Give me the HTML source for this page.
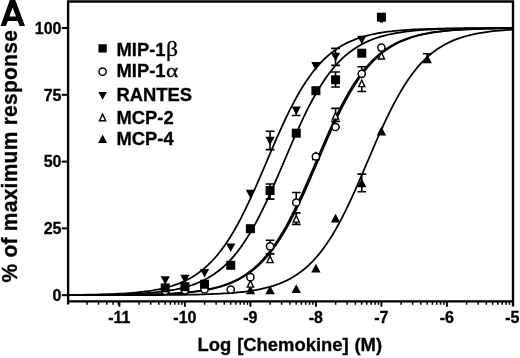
<!DOCTYPE html>
<html><head><meta charset="utf-8"><title>Chart</title>
<style>
html,body{margin:0;padding:0;background:#fff;width:520px;height:358px;overflow:hidden;}
#c{position:absolute;left:0;top:0;width:520px;height:358px;overflow:hidden;will-change:transform;}
body{position:relative;font-family:"Liberation Sans",sans-serif;font-weight:bold;color:#000;}
.t{-webkit-text-stroke:0.3px #000;position:absolute;white-space:nowrap;line-height:1;}
.yt{font-size:16px;right:458.5px;text-align:right;}
.xt{font-size:16px;width:40px;text-align:center;}
.lg{font-size:18.4px;left:116.5px;}
.gr{font-family:"Liberation Serif",serif;font-weight:normal;font-size:20px;margin-left:0.2px;display:inline-block;transform:scaleX(1.18);transform-origin:0 100%;}
.al{font-size:19px;transform:scaleX(1.22);}
</style></head><body><div id="c">
<svg width="520" height="358" viewBox="0 0 520 358" style="position:absolute;left:0;top:0">
<rect width="520" height="358" fill="#fff"/>
<path d="M67.00,294.96 L70.27,294.93 L73.55,294.90 L76.83,294.86 L80.10,294.82 L83.38,294.78 L86.65,294.72 L89.93,294.67 L93.20,294.60 L96.48,294.53 L99.75,294.45 L103.03,294.35 L106.30,294.25 L109.58,294.14 L112.85,294.01 L116.13,293.86 L119.40,293.70 L122.68,293.52 L125.95,293.31 L129.23,293.08 L132.50,292.83 L135.78,292.54 L139.05,292.22 L142.33,291.86 L145.60,291.46 L148.88,291.01 L152.15,290.51 L155.43,289.95 L158.70,289.32 L161.98,288.62 L165.25,287.84 L168.53,286.97 L171.80,286.00 L175.08,284.92 L178.35,283.72 L181.63,282.39 L184.90,280.91 L188.18,279.27 L191.45,277.46 L194.73,275.45 L198.00,273.24 L201.28,270.81 L204.55,268.13 L207.83,265.20 L211.10,261.99 L214.38,258.50 L217.65,254.70 L220.93,250.58 L224.20,246.14 L227.48,241.36 L230.75,236.24 L234.03,230.78 L237.30,224.98 L240.58,218.86 L243.85,212.44 L247.13,205.72 L250.40,198.74 L253.68,191.54 L256.95,184.15 L260.23,176.61 L263.50,168.98 L266.78,161.29 L270.05,153.61 L273.33,145.98 L276.60,138.46 L279.88,131.08 L283.15,123.89 L286.43,116.93 L289.70,110.24 L292.98,103.83 L296.25,97.74 L299.53,91.97 L302.80,86.54 L306.08,81.45 L309.35,76.69 L312.63,72.28 L315.90,68.18 L319.18,64.41 L322.45,60.94 L325.73,57.76 L329.00,54.84 L332.28,52.19 L335.55,49.77 L338.83,47.58 L342.10,45.59 L345.38,43.79 L348.65,42.16 L351.93,40.70 L355.20,39.37 L358.48,38.18 L361.75,37.12 L365.03,36.15 L368.30,35.29 L371.58,34.52 L374.85,33.82 L378.13,33.20 L381.40,32.65 L384.68,32.15 L387.95,31.70 L391.23,31.31 L394.50,30.95 L397.78,30.63 L401.05,30.35 L404.33,30.10 L407.60,29.87 L410.88,29.67 L414.15,29.49 L417.43,29.33 L420.70,29.18 L423.98,29.05 L427.25,28.94 L430.53,28.84 L433.80,28.75 L437.08,28.67 L440.35,28.59 L443.63,28.53 L446.90,28.47 L450.18,28.42 L453.45,28.38 L456.73,28.33 L460.00,28.30 L463.28,28.27 L466.55,28.24 L469.83,28.21 L473.10,28.19 L476.38,28.17 L479.65,28.15 L482.93,28.13 L486.20,28.12 L489.48,28.11 L492.75,28.09 L496.03,28.08 L499.30,28.07 L502.58,28.07 L505.85,28.06 L509.13,28.05 L512.40,28.05" fill="none" stroke="#000" stroke-width="1.75"/>
<path d="M67.00,295.07 L70.27,295.05 L73.55,295.04 L76.83,295.02 L80.10,294.99 L83.38,294.97 L86.65,294.94 L89.93,294.91 L93.20,294.87 L96.48,294.83 L99.75,294.79 L103.03,294.74 L106.30,294.68 L109.58,294.62 L112.85,294.55 L116.13,294.47 L119.40,294.38 L122.68,294.28 L125.95,294.17 L129.23,294.05 L132.50,293.91 L135.78,293.75 L139.05,293.57 L142.33,293.38 L145.60,293.16 L148.88,292.91 L152.15,292.63 L155.43,292.32 L158.70,291.97 L161.98,291.59 L165.25,291.15 L168.53,290.67 L171.80,290.12 L175.08,289.52 L178.35,288.84 L181.63,288.09 L184.90,287.24 L188.18,286.31 L191.45,285.26 L194.73,284.10 L198.00,282.81 L201.28,281.37 L204.55,279.78 L207.83,278.02 L211.10,276.08 L214.38,273.93 L217.65,271.56 L220.93,268.96 L224.20,266.11 L227.48,262.99 L230.75,259.58 L234.03,255.87 L237.30,251.85 L240.58,247.51 L243.85,242.83 L247.13,237.81 L250.40,232.45 L253.68,226.76 L256.95,220.73 L260.23,214.40 L263.50,207.76 L266.78,200.86 L270.05,193.72 L273.33,186.38 L276.60,178.88 L279.88,171.27 L283.15,163.60 L286.43,155.91 L289.70,148.26 L292.98,140.70 L296.25,133.27 L299.53,126.02 L302.80,119.00 L306.08,112.22 L309.35,105.72 L312.63,99.53 L315.90,93.67 L319.18,88.13 L322.45,82.94 L325.73,78.08 L329.00,73.57 L332.28,69.38 L335.55,65.51 L338.83,61.95 L342.10,58.68 L345.38,55.69 L348.65,52.96 L351.93,50.47 L355.20,48.21 L358.48,46.17 L361.75,44.31 L365.03,42.63 L368.30,41.12 L371.58,39.76 L374.85,38.53 L378.13,37.42 L381.40,36.43 L384.68,35.54 L387.95,34.74 L391.23,34.02 L394.50,33.38 L397.78,32.81 L401.05,32.29 L404.33,31.83 L407.60,31.42 L410.88,31.05 L414.15,30.73 L417.43,30.43 L420.70,30.17 L423.98,29.93 L427.25,29.73 L430.53,29.54 L433.80,29.37 L437.08,29.22 L440.35,29.09 L443.63,28.97 L446.90,28.87 L450.18,28.77 L453.45,28.69 L456.73,28.61 L460.00,28.55 L463.28,28.49 L466.55,28.44 L469.83,28.39 L473.10,28.35 L476.38,28.31 L479.65,28.28 L482.93,28.25 L486.20,28.22 L489.48,28.19 L492.75,28.17 L496.03,28.15 L499.30,28.14 L502.58,28.12 L505.85,28.11 L509.13,28.10 L512.40,28.09" fill="none" stroke="#000" stroke-width="1.75"/>
<path d="M67.00,295.16 L70.27,295.15 L73.55,295.15 L76.83,295.14 L80.10,295.13 L83.38,295.13 L86.65,295.12 L89.93,295.11 L93.20,295.09 L96.48,295.08 L99.75,295.07 L103.03,295.05 L106.30,295.03 L109.58,295.01 L112.85,294.99 L116.13,294.96 L119.40,294.93 L122.68,294.90 L125.95,294.87 L129.23,294.83 L132.50,294.78 L135.78,294.73 L139.05,294.67 L142.33,294.61 L145.60,294.54 L148.88,294.45 L152.15,294.36 L155.43,294.26 L158.70,294.15 L161.98,294.02 L165.25,293.88 L168.53,293.72 L171.80,293.54 L175.08,293.33 L178.35,293.11 L181.63,292.86 L184.90,292.57 L188.18,292.26 L191.45,291.90 L194.73,291.50 L198.00,291.06 L201.28,290.56 L204.55,290.01 L207.83,289.39 L211.10,288.70 L214.38,287.92 L217.65,287.06 L220.93,286.11 L224.20,285.04 L227.48,283.85 L230.75,282.53 L234.03,281.07 L237.30,279.44 L240.58,277.65 L243.85,275.66 L247.13,273.47 L250.40,271.06 L253.68,268.41 L256.95,265.51 L260.23,262.33 L263.50,258.86 L266.78,255.09 L270.05,251.01 L273.33,246.60 L276.60,241.85 L279.88,236.77 L283.15,231.34 L286.43,225.58 L289.70,219.49 L292.98,213.09 L296.25,206.40 L299.53,199.45 L302.80,192.27 L306.08,184.89 L309.35,177.37 L312.63,169.74 L315.90,162.06 L319.18,154.38 L322.45,146.74 L325.73,139.20 L329.00,131.81 L332.28,124.60 L335.55,117.62 L338.83,110.90 L342.10,104.46 L345.38,98.33 L348.65,92.53 L351.93,87.07 L355.20,81.94 L358.48,77.15 L361.75,72.70 L365.03,68.58 L368.30,64.77 L371.58,61.27 L374.85,58.06 L378.13,55.12 L381.40,52.44 L384.68,50.00 L387.95,47.79 L391.23,45.78 L394.50,43.96 L397.78,42.32 L401.05,40.84 L404.33,39.50 L407.60,38.30 L410.88,37.22 L414.15,36.25 L417.43,35.37 L420.70,34.59 L423.98,33.89 L427.25,33.26 L430.53,32.70 L433.80,32.20 L437.08,31.75 L440.35,31.34 L443.63,30.99 L446.90,30.66 L450.18,30.38 L453.45,30.12 L456.73,29.89 L460.00,29.69 L463.28,29.50 L466.55,29.34 L469.83,29.20 L473.10,29.07 L476.38,28.95 L479.65,28.85 L482.93,28.76 L486.20,28.67 L489.48,28.60 L492.75,28.54 L496.03,28.48 L499.30,28.43 L502.58,28.38 L505.85,28.34 L509.13,28.30 L512.40,28.27" fill="none" stroke="#000" stroke-width="1.75"/>
<path d="M67.00,295.16 L70.27,295.16 L73.55,295.15 L76.83,295.14 L80.10,295.14 L83.38,295.13 L86.65,295.12 L89.93,295.11 L93.20,295.10 L96.48,295.09 L99.75,295.07 L103.03,295.06 L106.30,295.04 L109.58,295.02 L112.85,295.00 L116.13,294.98 L119.40,294.95 L122.68,294.92 L125.95,294.88 L129.23,294.84 L132.50,294.80 L135.78,294.75 L139.05,294.70 L142.33,294.64 L145.60,294.57 L148.88,294.49 L152.15,294.41 L155.43,294.31 L158.70,294.20 L161.98,294.08 L165.25,293.94 L168.53,293.79 L171.80,293.62 L175.08,293.43 L178.35,293.22 L181.63,292.98 L184.90,292.71 L188.18,292.41 L191.45,292.07 L194.73,291.69 L198.00,291.27 L201.28,290.80 L204.55,290.27 L207.83,289.68 L211.10,289.02 L214.38,288.29 L217.65,287.47 L220.93,286.56 L224.20,285.54 L227.48,284.41 L230.75,283.16 L234.03,281.76 L237.30,280.21 L240.58,278.50 L243.85,276.60 L247.13,274.51 L250.40,272.20 L253.68,269.66 L256.95,266.87 L260.23,263.82 L263.50,260.49 L266.78,256.87 L270.05,252.93 L273.33,248.67 L276.60,244.08 L279.88,239.15 L283.15,233.88 L286.43,228.27 L289.70,222.33 L292.98,216.07 L296.25,209.51 L299.53,202.68 L302.80,195.60 L306.08,188.31 L309.35,180.85 L312.63,173.26 L315.90,165.60 L319.18,157.91 L322.45,150.25 L325.73,142.66 L329.00,135.19 L332.28,127.89 L335.55,120.80 L338.83,113.95 L342.10,107.38 L345.38,101.11 L348.65,95.16 L351.93,89.54 L355.20,84.26 L358.48,79.31 L361.75,74.71 L365.03,70.44 L368.30,66.49 L371.58,62.85 L374.85,59.50 L378.13,56.44 L381.40,53.65 L384.68,51.10 L387.95,48.78 L391.23,46.68 L394.50,44.78 L397.78,43.05 L401.05,41.50 L404.33,40.10 L407.60,38.84 L410.88,37.70 L414.15,36.68 L417.43,35.76 L420.70,34.94 L423.98,34.20 L427.25,33.54 L430.53,32.95 L433.80,32.42 L437.08,31.95 L440.35,31.52 L443.63,31.15 L446.90,30.81 L450.18,30.50 L453.45,30.23 L456.73,29.99 L460.00,29.78 L463.28,29.59 L466.55,29.41 L469.83,29.26 L473.10,29.12 L476.38,29.00 L479.65,28.89 L482.93,28.80 L486.20,28.71 L489.48,28.63 L492.75,28.56 L496.03,28.50 L499.30,28.45 L502.58,28.40 L505.85,28.36 L509.13,28.32 L512.40,28.28" fill="none" stroke="#000" stroke-width="1.75"/>
<path d="M67.00,295.19 L70.27,295.19 L73.55,295.19 L76.83,295.19 L80.10,295.19 L83.38,295.19 L86.65,295.19 L89.93,295.18 L93.20,295.18 L96.48,295.18 L99.75,295.18 L103.03,295.18 L106.30,295.17 L109.58,295.17 L112.85,295.17 L116.13,295.16 L119.40,295.16 L122.68,295.15 L125.95,295.15 L129.23,295.14 L132.50,295.13 L135.78,295.12 L139.05,295.11 L142.33,295.10 L145.60,295.09 L148.88,295.08 L152.15,295.06 L155.43,295.05 L158.70,295.03 L161.98,295.01 L165.25,294.98 L168.53,294.96 L171.80,294.93 L175.08,294.89 L178.35,294.85 L181.63,294.81 L184.90,294.77 L188.18,294.71 L191.45,294.65 L194.73,294.59 L198.00,294.51 L201.28,294.43 L204.55,294.33 L207.83,294.23 L211.10,294.11 L214.38,293.98 L217.65,293.83 L220.93,293.66 L224.20,293.48 L227.48,293.27 L230.75,293.04 L234.03,292.77 L237.30,292.48 L240.58,292.15 L243.85,291.79 L247.13,291.38 L250.40,290.92 L253.68,290.40 L256.95,289.83 L260.23,289.19 L263.50,288.47 L266.78,287.68 L270.05,286.79 L273.33,285.80 L276.60,284.69 L279.88,283.47 L283.15,282.11 L286.43,280.60 L289.70,278.92 L292.98,277.07 L296.25,275.03 L299.53,272.77 L302.80,270.29 L306.08,267.57 L309.35,264.58 L312.63,261.32 L315.90,257.76 L319.18,253.90 L322.45,249.72 L325.73,245.21 L329.00,240.36 L332.28,235.17 L335.55,229.65 L338.83,223.79 L342.10,217.60 L345.38,211.11 L348.65,204.34 L351.93,197.32 L355.20,190.07 L358.48,182.65 L361.75,175.09 L365.03,167.44 L368.30,159.75 L371.58,152.08 L374.85,144.47 L378.13,136.97 L381.40,129.62 L384.68,122.48 L387.95,115.57 L391.23,108.93 L394.50,102.59 L397.78,96.56 L401.05,90.86 L404.33,85.49 L407.60,80.47 L410.88,75.78 L414.15,71.43 L417.43,67.40 L420.70,63.69 L423.98,60.28 L427.25,57.15 L430.53,54.29 L433.80,51.69 L437.08,49.32 L440.35,47.17 L443.63,45.22 L446.90,43.45 L450.18,41.86 L453.45,40.42 L456.73,39.13 L460.00,37.96 L463.28,36.91 L466.55,35.97 L469.83,35.13 L473.10,34.37 L476.38,33.69 L479.65,33.09 L482.93,32.54 L486.20,32.06 L489.48,31.62 L492.75,31.23 L496.03,30.88 L499.30,30.57 L502.58,30.30 L505.85,30.05 L509.13,29.83 L512.40,29.63" fill="none" stroke="#000" stroke-width="1.75"/>
<path d="M68.1,0.4 V304.6 M67,1.45 H514.1 M513.0,0.4 V306.6 M67,301.3 H514.1" stroke="#000" stroke-width="2.35" fill="none"/>
<path d="M61.8,295.20 H68" stroke="#000" stroke-width="2"/>
<path d="M61.8,228.40 H68" stroke="#000" stroke-width="2"/>
<path d="M61.8,161.60 H68" stroke="#000" stroke-width="2"/>
<path d="M61.8,94.80 H68" stroke="#000" stroke-width="2"/>
<path d="M61.8,28.00 H68" stroke="#000" stroke-width="2"/>
<path d="M87.02,301.3 V304.8 M98.55,301.3 V304.8 M106.73,301.3 V304.8 M113.08,301.3 V304.8 M118.27,301.3 V304.8 M139.12,301.3 V304.8 M150.65,301.3 V304.8 M158.83,301.3 V304.8 M165.18,301.3 V304.8 M170.37,301.3 V304.8 M174.75,301.3 V304.8 M178.55,301.3 V304.8 M181.90,301.3 V304.8 M204.62,301.3 V304.8 M216.15,301.3 V304.8 M224.33,301.3 V304.8 M230.68,301.3 V304.8 M235.87,301.3 V304.8 M240.25,301.3 V304.8 M244.05,301.3 V304.8 M247.40,301.3 V304.8 M270.12,301.3 V304.8 M281.65,301.3 V304.8 M289.83,301.3 V304.8 M296.18,301.3 V304.8 M301.37,301.3 V304.8 M305.75,301.3 V304.8 M309.55,301.3 V304.8 M312.90,301.3 V304.8 M335.62,301.3 V304.8 M347.15,301.3 V304.8 M355.33,301.3 V304.8 M361.68,301.3 V304.8 M366.87,301.3 V304.8 M371.25,301.3 V304.8 M375.05,301.3 V304.8 M378.40,301.3 V304.8 M401.12,301.3 V304.8 M412.65,301.3 V304.8 M420.83,301.3 V304.8 M427.18,301.3 V304.8 M432.37,301.3 V304.8 M436.75,301.3 V304.8 M440.55,301.3 V304.8 M443.90,301.3 V304.8 M466.62,301.3 V304.8 M478.15,301.3 V304.8 M486.33,301.3 V304.8 M492.68,301.3 V304.8 M497.87,301.3 V304.8 M502.25,301.3 V304.8 M506.05,301.3 V304.8 M509.40,301.3 V304.8" stroke="#000" stroke-width="1.5" fill="none"/>
<path d="M119.40,301.3 V306.8 M184.90,301.3 V306.8 M250.40,301.3 V306.8 M315.90,301.3 V306.8 M381.40,301.3 V306.8 M446.90,301.3 V306.8" stroke="#000" stroke-width="1.9" fill="none"/>
<path d="M361.75,182.90 V174.10 M357.35,174.10 H366.15 M361.75,182.90 V191.70 M357.35,191.70 H366.15 M427.25,58.80 V53.80 M422.85,53.80 H431.65 " stroke="#000" stroke-width="1.6" fill="none"/>
<path d="M245.70,294.20 H255.10 L250.40,285.40 Z" fill="#000"/>
<path d="M265.35,294.20 H274.75 L270.05,285.40 Z" fill="#000"/>
<path d="M291.55,293.10 H300.95 L296.25,284.30 Z" fill="#000"/>
<path d="M311.20,272.60 H320.60 L315.90,263.80 Z" fill="#000"/>
<path d="M330.85,222.60 H340.25 L335.55,213.80 Z" fill="#000"/>
<path d="M357.05,187.30 H366.45 L361.75,178.50 Z" fill="#000"/>
<path d="M376.70,135.40 H386.10 L381.40,126.60 Z" fill="#000"/>
<path d="M422.55,63.20 H431.95 L427.25,54.40 Z" fill="#000"/>
<path d="M270.05,258.90 V253.90 M265.65,253.90 H274.45 M296.25,218.40 V212.90 M291.85,212.90 H300.65 M296.25,218.40 V224.40 M291.85,224.40 H300.65 M335.55,115.40 V108.40 M331.15,108.40 H339.95 M335.55,115.40 V121.40 M331.15,121.40 H339.95 M361.75,82.90 V91.50 M357.35,91.50 H366.15 " stroke="#000" stroke-width="1.6" fill="none"/>
<path d="M247.30,287.13 H253.50 L250.40,280.54 Z" fill="#fff" stroke="#000" stroke-width="1.40"/>
<path d="M266.95,262.63 H273.15 L270.05,256.04 Z" fill="#fff" stroke="#000" stroke-width="1.40"/>
<path d="M293.15,222.13 H299.35 L296.25,215.54 Z" fill="#fff" stroke="#000" stroke-width="1.40"/>
<path d="M312.80,159.43 H319.00 L315.90,152.84 Z" fill="#fff" stroke="#000" stroke-width="1.40"/>
<path d="M332.45,119.13 H338.65 L335.55,112.54 Z" fill="#fff" stroke="#000" stroke-width="1.40"/>
<path d="M358.65,86.63 H364.85 L361.75,80.04 Z" fill="#fff" stroke="#000" stroke-width="1.40"/>
<path d="M378.30,59.03 H384.50 L381.40,52.44 Z" fill="#fff" stroke="#000" stroke-width="1.40"/>
<path d="M270.05,246.30 V240.30 M265.65,240.30 H274.45 M296.25,202.50 V192.50 M291.85,192.50 H300.65 M361.75,73.80 V66.80 M357.35,66.80 H366.15 " stroke="#000" stroke-width="1.6" fill="none"/>
<circle cx="165.25" cy="291.00" r="3.60" fill="#fff" stroke="#000" stroke-width="1.50"/>
<circle cx="184.90" cy="290.30" r="3.60" fill="#fff" stroke="#000" stroke-width="1.50"/>
<circle cx="204.55" cy="289.40" r="3.60" fill="#fff" stroke="#000" stroke-width="1.50"/>
<circle cx="230.75" cy="289.60" r="3.60" fill="#fff" stroke="#000" stroke-width="1.50"/>
<circle cx="250.40" cy="277.20" r="3.60" fill="#fff" stroke="#000" stroke-width="1.50"/>
<circle cx="270.05" cy="246.30" r="3.60" fill="#fff" stroke="#000" stroke-width="1.50"/>
<circle cx="296.25" cy="202.50" r="3.60" fill="#fff" stroke="#000" stroke-width="1.50"/>
<circle cx="315.90" cy="156.50" r="3.60" fill="#fff" stroke="#000" stroke-width="1.50"/>
<circle cx="335.55" cy="127.00" r="3.60" fill="#fff" stroke="#000" stroke-width="1.50"/>
<circle cx="361.75" cy="73.80" r="3.60" fill="#fff" stroke="#000" stroke-width="1.50"/>
<circle cx="381.40" cy="47.60" r="3.60" fill="#fff" stroke="#000" stroke-width="1.50"/>
<path d="M270.05,190.60 V184.00 M265.65,184.00 H274.45 M270.05,190.60 V199.10 M265.65,199.10 H274.45 M335.55,79.80 V72.00 M331.15,72.00 H339.95 M335.55,79.80 V87.00 M331.15,87.00 H339.95 " stroke="#000" stroke-width="1.6" fill="none"/>
<rect x="160.75" y="283.40" width="9.00" height="9.00" fill="#000"/>
<rect x="180.40" y="282.20" width="9.00" height="9.00" fill="#000"/>
<rect x="200.05" y="279.70" width="9.00" height="9.00" fill="#000"/>
<rect x="226.25" y="260.80" width="9.00" height="9.00" fill="#000"/>
<rect x="245.90" y="224.20" width="9.00" height="9.00" fill="#000"/>
<rect x="265.55" y="186.10" width="9.00" height="9.00" fill="#000"/>
<rect x="291.75" y="128.70" width="9.00" height="9.00" fill="#000"/>
<rect x="311.40" y="86.20" width="9.00" height="9.00" fill="#000"/>
<rect x="331.05" y="75.30" width="9.00" height="9.00" fill="#000"/>
<rect x="357.25" y="48.70" width="9.00" height="9.00" fill="#000"/>
<rect x="376.90" y="12.70" width="9.00" height="9.00" fill="#000"/>
<path d="M270.05,141.00 V131.30 M265.65,131.30 H274.45 M270.05,141.00 V149.60 M265.65,149.60 H274.45 M296.25,110.60 V115.50 M291.85,115.50 H300.65 M335.55,56.90 V48.40 M331.15,48.40 H339.95 M335.55,56.90 V65.40 M331.15,65.40 H339.95 " stroke="#000" stroke-width="1.6" fill="none"/>
<path d="M160.65,276.30 H169.85 L165.25,284.80 Z" fill="#000"/>
<path d="M180.30,274.80 H189.50 L184.90,283.30 Z" fill="#000"/>
<path d="M199.95,268.90 H209.15 L204.55,277.40 Z" fill="#000"/>
<path d="M226.15,243.40 H235.35 L230.75,251.90 Z" fill="#000"/>
<path d="M245.80,189.80 H255.00 L250.40,198.30 Z" fill="#000"/>
<path d="M265.45,136.80 H274.65 L270.05,145.30 Z" fill="#000"/>
<path d="M291.65,106.40 H300.85 L296.25,114.90 Z" fill="#000"/>
<path d="M311.30,61.90 H320.50 L315.90,70.40 Z" fill="#000"/>
<path d="M330.95,52.70 H340.15 L335.55,61.20 Z" fill="#000"/>
<path d="M357.15,35.80 H366.35 L361.75,44.30 Z" fill="#000"/>
<path d="M0.6,25.9 L9.8,0.1 L15.3,0.1 L25.0,25.9 L19.6,25.9 L17.75,21 L7.75,21 L6.0,25.9 Z M12.62,7.4 L16.05,16.5 L9.37,16.5 Z" fill="#000" fill-rule="evenodd"/>
<rect x="379.90" y="21" width="3" height="1.6" fill="#000"/>
<rect x="98.46" y="44.26" width="8.28" height="8.28" fill="#000"/>
<circle cx="102.60" cy="71.70" r="3.60" fill="#fff" stroke="#000" stroke-width="1.50"/>
<path d="M98.37,91.94 H106.83 L102.60,99.76 Z" fill="#000"/>
<path d="M99.50,120.73 H105.70 L102.60,114.14 Z" fill="#fff" stroke="#000" stroke-width="1.40"/>
<path d="M98.13,142.88 H107.06 L102.60,134.52 Z" fill="#000"/>
</svg>
<div class="t yt" style="top:20.8px">100</div>
<div class="t yt" style="top:87.6px">75</div>
<div class="t yt" style="top:154.4px">50</div>
<div class="t yt" style="top:221.2px">25</div>
<div class="t yt" style="top:288.0px">0</div>
<div class="t xt" style="left:99.4px;top:310.2px">-11</div>
<div class="t xt" style="left:164.9px;top:310.2px">-10</div>
<div class="t xt" style="left:230.4px;top:310.2px">-9</div>
<div class="t xt" style="left:295.9px;top:310.2px">-8</div>
<div class="t xt" style="left:361.4px;top:310.2px">-7</div>
<div class="t xt" style="left:426.9px;top:310.2px">-6</div>
<div class="t xt" style="left:492.4px;top:310.2px">-5</div>
<div class="t lg" style="top:38.5px">MIP-1<span class="gr">&beta;</span></div>
<div class="t lg" style="top:61px">MIP-1<span class="gr al">&alpha;</span></div>
<div class="t lg" style="top:86.2px">RANTES</div>
<div class="t lg" style="top:108.7px">MCP-2</div>
<div class="t lg" style="top:130px">MCP-4</div>
<div class="t" style="left:197.6px;top:336px;font-size:18.4px;word-spacing:0.8px;">Log [Chemokine] (M)</div>
<div class="t" style="left:0;top:0;font-size:21px;transform-origin:0 0;transform:translate(-2.3px,282.6px) rotate(-90deg) scaleY(1.05);word-spacing:0px;letter-spacing:0.25px;">% of maximum response</div>
</div></body></html>
